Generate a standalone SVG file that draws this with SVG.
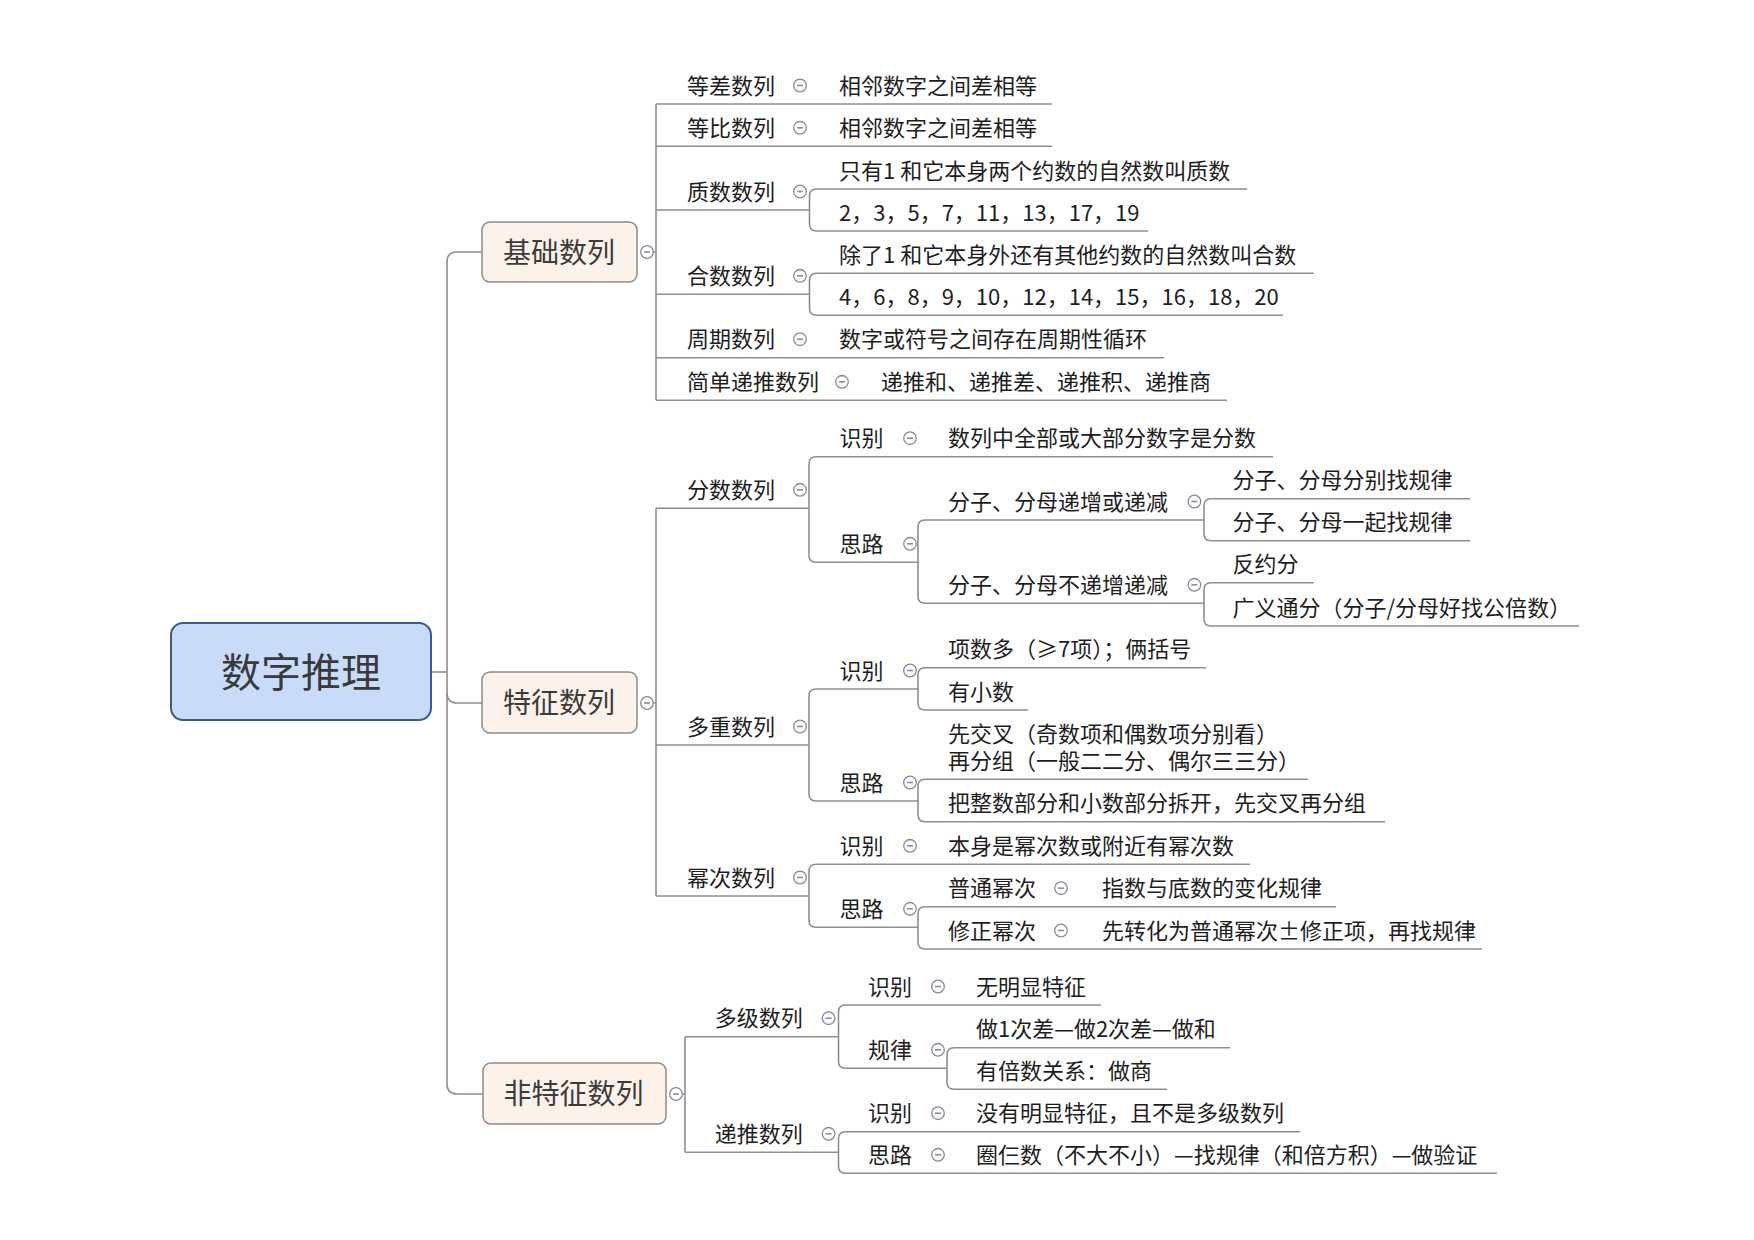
<svg xmlns="http://www.w3.org/2000/svg" xmlns:xlink="http://www.w3.org/1999/xlink" width="1754" height="1240" viewBox="0 0 1754 1240">
<style>
.ln{fill:none;stroke:#8f8f8f;stroke-width:1.6}
text{font-family:"Noto Sans CJK SC","Noto Sans",sans-serif}
.t{font-size:22px;fill:#1e1e1e}
.t1{font-size:28px;fill:#3c3c3c}
.t0{font-size:40px;fill:#3a3a3a}
.b1{fill:#fdf2e9;stroke:#8e8a86;stroke-width:1.5}
.b0{fill:#c8dcfa;stroke:#3d5a8a;stroke-width:2}
</style>
<defs>
<g id="cm"><circle r="6.3" fill="#fff" stroke="#8a8a8a" stroke-width="1.3"/><line x1="-3" y1="0" x2="3" y2="0" stroke="#7d8ec4" stroke-width="1.6"/></g>
</defs>
<rect width="1754" height="1240" fill="#fff"/>
<g id="connectors" class="ln">
<path d="M482 252 H457 Q447 252 447 262 V1084 Q447 1094 457 1094 H483"/>
<path d="M447 693 Q447 703 457 703 H482"/>
<path d="M431 672 H447"/>
<path d="M653 252 H656"/>
<path d="M656 104 V400.3"/>
<path d="M656 104 H1052"/>
<path d="M656 146.3 H1052"/>
<path d="M656 210 H809.5"/>
<path d="M1247 189 H816.5 Q809.5 189 809.5 196 V224 Q809.5 231 816.5 231 H1148"/>
<path d="M656 294.3 H809.5"/>
<path d="M1314 273.3 H816.5 Q809.5 273.3 809.5 280.3 V308.3 Q809.5 315.3 816.5 315.3 H1283"/>
<path d="M656 357.7 H1164"/>
<path d="M656 400.3 H1227"/>
<path d="M653 703 H656"/>
<path d="M656 508.3 V896"/>
<path d="M656 508.3 H809"/>
<path d="M1273 456.7 H816 Q809 456.7 809 463.7 V555.3 Q809 562.3 816 562.3 H918"/>
<path d="M1204 520 H925 Q918 520 918 527 V596.3 Q918 603.3 925 603.3 H1204"/>
<path d="M1470 498.7 H1211 Q1204 498.7 1204 505.7 V533.7 Q1204 540.7 1211 540.7 H1470"/>
<path d="M1314 582.7 H1211 Q1204 582.7 1204 589.7 V619 Q1204 626 1211 626 H1579"/>
<path d="M656 745 H809"/>
<path d="M918 689 H816 Q809 689 809 696 V794 Q809 801 816 801 H918"/>
<path d="M1206 667.7 H925 Q918 667.7 918 674.7 V703 Q918 710 925 710 H1028"/>
<path d="M1308 779.3 H925 Q918 779.3 918 786.3 V814.7 Q918 821.7 925 821.7 H1385"/>
<path d="M656 896 H809"/>
<path d="M1250 864.3 H816 Q809 864.3 809 871.3 V920.3 Q809 927.3 816 927.3 H918"/>
<path d="M1336 906.7 H925 Q918 906.7 918 913.7 V942 Q918 949 925 949 H1482"/>
<path d="M682 1094 H685"/>
<path d="M685 1036.7 V1152.3"/>
<path d="M685 1036.7 H838.5"/>
<path d="M1101 1005 H845.5 Q838.5 1005 838.5 1012 V1061.3 Q838.5 1068.3 845.5 1068.3 H947"/>
<path d="M1230 1047.7 H954 Q947 1047.7 947 1054.7 V1082.3 Q947 1089.3 954 1089.3 H1167"/>
<path d="M685 1152.3 H838.5"/>
<path d="M1300 1131.7 H845.5 Q838.5 1131.7 838.5 1138.7 V1166.3 Q838.5 1173.3 845.5 1173.3 H1497"/>
</g>
<g id="n-root"><rect class="b0" x="171" y="623" width="260" height="97" rx="12"/><text class="t0" x="301" y="687" text-anchor="middle">数字推理</text></g>
<g id="n-jichu"><rect class="b1" x="482" y="222" width="155" height="60" rx="8"/><text class="t1" x="503" y="262.5">基础数列</text><use xlink:href="#cm" x="647" y="252"/></g>
<g id="n-tezheng"><rect class="b1" x="482" y="672" width="155" height="61" rx="8"/><text class="t1" x="503" y="713">特征数列</text><use xlink:href="#cm" x="647" y="703"/></g>
<g id="n-feitezheng"><rect class="b1" x="483" y="1063" width="183" height="61" rx="8"/><text class="t1" x="503.5" y="1104">非特征数列</text><use xlink:href="#cm" x="676" y="1094"/></g>

<g id="n-dengcha"><text class="t" x="687" y="93.5">等差数列</text><use xlink:href="#cm" x="800" y="85.5"/></g>
<g id="n-dengcha-1"><text class="t" x="839" y="93.5">相邻数字之间差相等</text></g>
<g id="n-dengbi"><text class="t" x="687" y="135.8">等比数列</text><use xlink:href="#cm" x="800" y="127.8"/></g>
<g id="n-dengbi-1"><text class="t" x="839" y="135.8">相邻数字之间差相等</text></g>
<g id="n-zhishu"><text class="t" x="687" y="199.5">质数数列</text><use xlink:href="#cm" x="800" y="191.5"/></g>
<g id="n-zhishu-1"><text class="t" x="839" y="178.5">只有1 和它本身两个约数的自然数叫质数</text></g>
<g id="n-zhishu-2"><text class="t" x="839" y="220.5">2，3，5，7，11，13，17，19</text></g>
<g id="n-heshu"><text class="t" x="687" y="283.8">合数数列</text><use xlink:href="#cm" x="800" y="275.8"/></g>
<g id="n-heshu-1"><text class="t" x="839" y="262.8">除了1 和它本身外还有其他约数的自然数叫合数</text></g>
<g id="n-heshu-2"><text class="t" x="839" y="304.8">4，6，8，9，10，12，14，15，16，18，20</text></g>
<g id="n-zhouqi"><text class="t" x="687" y="347.2">周期数列</text><use xlink:href="#cm" x="800" y="339.2"/></g>
<g id="n-zhouqi-1"><text class="t" x="839" y="347.2">数字或符号之间存在周期性循环</text></g>
<g id="n-ditui0"><text class="t" x="687" y="389.8">简单递推数列</text><use xlink:href="#cm" x="842" y="381.8"/></g>
<g id="n-ditui0-1"><text class="t" x="881" y="389.8">递推和、递推差、递推积、递推商</text></g>

<g id="n-fenshu"><text class="t" x="687" y="497.8">分数数列</text><use xlink:href="#cm" x="800" y="489.8"/></g>
<g id="n-fs-shibie"><text class="t" x="839.5" y="446.2">识别</text><use xlink:href="#cm" x="910" y="438.2"/></g>
<g id="n-fs-shibie-1"><text class="t" x="948" y="446.2">数列中全部或大部分数字是分数</text></g>
<g id="n-fs-silu"><text class="t" x="839.5" y="551.8">思路</text><use xlink:href="#cm" x="910" y="543.8"/></g>
<g id="n-fs-dizeng"><text class="t" x="948" y="509.5">分子、分母递增或递减</text><use xlink:href="#cm" x="1194.4" y="501.5"/></g>
<g id="n-fs-dizeng-1"><text class="t" x="1232.5" y="488.2">分子、分母分别找规律</text></g>
<g id="n-fs-dizeng-2"><text class="t" x="1232.5" y="530.2">分子、分母一起找规律</text></g>
<g id="n-fs-budizeng"><text class="t" x="948" y="592.8">分子、分母不递增递减</text><use xlink:href="#cm" x="1194.4" y="584.8"/></g>
<g id="n-fs-budizeng-1"><text class="t" x="1232.5" y="572.2">反约分</text></g>
<g id="n-fs-budizeng-2"><text class="t" x="1232.5" y="615.5">广义通分（分子/分母好找公倍数）</text></g>

<g id="n-duochong"><text class="t" x="687" y="734.5">多重数列</text><use xlink:href="#cm" x="800" y="726.5"/></g>
<g id="n-dc-shibie"><text class="t" x="839.5" y="678.5">识别</text><use xlink:href="#cm" x="910" y="670.5"/></g>
<g id="n-dc-shibie-1"><text class="t" x="948" y="657.2">项数多（≥7项）；俩括号</text></g>
<g id="n-dc-shibie-2"><text class="t" x="948" y="699.5">有小数</text></g>
<g id="n-dc-silu"><text class="t" x="839.5" y="790.5">思路</text><use xlink:href="#cm" x="910" y="782.5"/></g>
<g id="n-dc-silu-1"><text class="t"><tspan x="948" y="742.1">先交叉（奇数项和偶数项分别看）</tspan><tspan x="948" y="768.8">再分组（一般二二分、偶尔三三分）</tspan></text></g>
<g id="n-dc-silu-2"><text class="t" x="948" y="811.2">把整数部分和小数部分拆开，先交叉再分组</text></g>

<g id="n-mici"><text class="t" x="687" y="885.5">幂次数列</text><use xlink:href="#cm" x="800" y="877.5"/></g>
<g id="n-mc-shibie"><text class="t" x="839.5" y="853.8">识别</text><use xlink:href="#cm" x="910" y="845.8"/></g>
<g id="n-mc-shibie-1"><text class="t" x="948" y="853.8">本身是幂次数或附近有幂次数</text></g>
<g id="n-mc-silu"><text class="t" x="839.5" y="916.8">思路</text><use xlink:href="#cm" x="910" y="908.8"/></g>
<g id="n-mc-putong"><text class="t" x="948" y="896.2">普通幂次</text><use xlink:href="#cm" x="1061" y="888.2"/></g>
<g id="n-mc-putong-1"><text class="t" x="1102" y="896.2">指数与底数的变化规律</text></g>
<g id="n-mc-xiuzheng"><text class="t" x="948" y="938.5">修正幂次</text><use xlink:href="#cm" x="1061" y="930.5"/></g>
<g id="n-mc-xiuzheng-1"><text class="t" x="1102" y="938.5">先转化为普通幂次±修正项，再找规律</text></g>

<g id="n-duoji"><text class="t" x="714.7" y="1026.2">多级数列</text><use xlink:href="#cm" x="828.6" y="1018.2"/></g>
<g id="n-dj-shibie"><text class="t" x="868" y="994.5">识别</text><use xlink:href="#cm" x="938" y="986.5"/></g>
<g id="n-dj-shibie-1"><text class="t" x="976" y="994.5">无明显特征</text></g>
<g id="n-dj-guilv"><text class="t" x="868" y="1057.8">规律</text><use xlink:href="#cm" x="938" y="1049.8"/></g>
<g id="n-dj-guilv-1"><text class="t" x="976" y="1037.2">做1次差—做2次差—做和</text></g>
<g id="n-dj-guilv-2"><text class="t" x="976" y="1078.8">有倍数关系：做商</text></g>
<g id="n-ditui"><text class="t" x="714.7" y="1141.8">递推数列</text><use xlink:href="#cm" x="828.6" y="1133.8"/></g>
<g id="n-dt-shibie"><text class="t" x="868" y="1121.2">识别</text><use xlink:href="#cm" x="938" y="1113.2"/></g>
<g id="n-dt-shibie-1"><text class="t" x="976" y="1121.2">没有明显特征，且不是多级数列</text></g>
<g id="n-dt-silu"><text class="t" x="868" y="1162.8">思路</text><use xlink:href="#cm" x="938" y="1154.8"/></g>
<g id="n-dt-silu-1"><text class="t" x="976" y="1162.8">圈仨数（不大不小）—找规律（和倍方积）—做验证</text></g>
</svg>
